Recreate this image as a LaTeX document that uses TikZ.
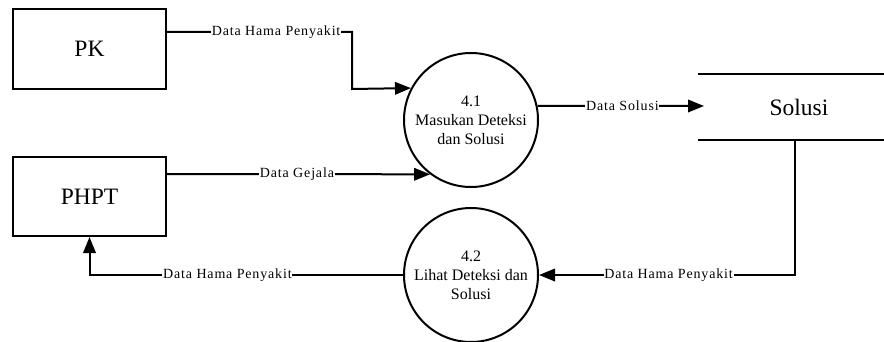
\documentclass[tikz,border=0pt]{standalone}
\usepackage{fontspec}
\setmainfont{Liberation Serif}
\newfontfamily\lblfont{Liberation Serif}[LetterSpace=6]
\usetikzlibrary{arrows.meta}

\tikzset{
  entity/.style={draw, line width=2pt, fill=white, minimum width=153pt,
    minimum height=80pt, inner sep=0pt, font=\fontsize{23.5}{28}\selectfont},
  process/.style={draw, line width=2pt, fill=white, circle, minimum size=134pt,
    inner sep=0pt, align=center, font=\fontsize{16}{19}\selectfont},
  flow/.style={line width=2pt, -{Triangle[length=16pt,width=12.5pt]}},
  lbl/.style={fill=white, inner sep=0.8pt, font=\lblfont\fontsize{14}{16}\selectfont},
  storeline/.style={line width=2pt}
}

\begin{document}
\begin{tikzpicture}[x=1pt, y=-1pt]
  \useasboundingbox (0,0) rectangle (884,342);

  % external entities
  \node[entity] (pk) at (89.5,49) {PK};
  \node[entity, minimum height=79pt] (phpt) at (89.5,196.5) {PHPT};

  % processes
  \node[process] (p41) at (471,120) {4.1\\Masukan Deteksi\\dan Solusi};
  \node[process] (p42) at (471,275) {4.2\\Lihat Deteksi dan\\Solusi};

  % data store "Solusi"
  \coordinate (stTL) at (698,74);
  \coordinate (stTR) at (884,74);
  \coordinate (stBL) at (698,140);
  \coordinate (stBR) at (884,140);
  \coordinate (stOut) at (795,140);
  \coordinate (stIn) at (704,106);
  \draw[storeline] (stTL) -- (stTR);
  \draw[storeline] (stBL) -- (stBR);
  \node[font=\fontsize{23.5}{28}\selectfont] (solusi) at (799,107) {Solusi};

  % data flows
  \coordinate (k1) at (352,32);
  \coordinate (k2) at (352,89);
  \draw[flow] ([yshift=17pt]pk.east) -- node[lbl, pos=0.59] {Data Hama Penyakit} (k1)
    -- (k2) -- (p41.152.4);

  \draw[flow] ([yshift=22.5pt]phpt.east) -- node[lbl, pos=0.494] {Data Gejala} (p41.233.7);

  \draw[flow] (p41.12) -- node[lbl, pos=0.51] {Data Solusi} (stIn);

  \draw[flow] (stOut) |- node[lbl, pos=0.747] {Data Hama Penyakit} (p42.east);

  \draw[flow] (p42.west) -| node[lbl, pos=0.28] {Data Hama Penyakit} (phpt.south);
\end{tikzpicture}
\end{document}
